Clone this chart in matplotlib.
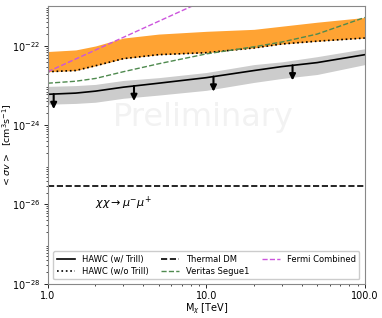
import matplotlib
matplotlib.use("Agg")
import matplotlib.pyplot as plt
import numpy as np

# masses [TeV]
mass = [1.0, 1.5, 2.0, 3.0, 5.0, 10.0, 20.0, 30.0, 50.0, 100.0]

# log10 <sigma v>
hawc_trill = [-23.22, -23.19, -23.14, -23.04, -22.94, -22.80, -22.62, -22.52, -22.42, -22.22]
band_hi = [-23.02, -23.00, -22.97, -22.87, -22.80, -22.67, -22.47, -22.40, -22.27, -22.07]
band_lo = [-23.47, -23.45, -23.42, -23.32, -23.24, -23.12, -22.92, -22.82, -22.72, -22.47]
hawc_notrill = [-22.65, -22.62, -22.50, -22.32, -22.22, -22.17, -22.05, -21.95, -21.88, -21.80]
orange_hi = [-22.14, -22.10, -22.00, -21.80, -21.70, -21.63, -21.58, -21.50, -21.40, -21.28]
veritas = [-22.94, -22.89, -22.82, -22.65, -22.45, -22.20, -22.02, -21.90, -21.70, -21.28]

fermi_mass = [1.0, 10.0]
fermi = [-22.65, -20.83]

thermal = 3e-26
arrow_mass = [1.09, 3.5, 11.1, 35.0]

p = lambda v: 10 ** np.array(v)

fig, ax = plt.subplots(figsize=(3.82, 3.18), dpi=100)

ax.fill_between(mass, p(hawc_notrill), p(orange_hi), color="darkorange", alpha=0.8, lw=0)
ax.fill_between(mass, p(band_lo), p(band_hi), color="gray", alpha=0.4, lw=0)

ax.plot(mass, p(hawc_trill), "k-", lw=1.2, label="HAWC (w/ Trill)")
ax.plot(mass, p(hawc_notrill), "k:", lw=1.2, label="HAWC (w/o Trill)")
ax.axhline(thermal, color="k", ls="--", lw=1.2, label="Thermal DM")
ax.plot(mass, p(veritas), "--", color="#4f8a4f", lw=1.0, label="Veritas Segue1")
ax.plot(fermi_mass, p(fermi), "--", color="#cc55dd", lw=1.0, label="Fermi Combined")

# upper-limit arrows
for m in arrow_mass:
    y0 = 10 ** np.interp(np.log10(m), np.log10(mass), hawc_trill)
    ax.annotate("", xy=(m, y0 * 10 ** -0.38), xytext=(m, y0),
                arrowprops=dict(arrowstyle="-|>", color="k", lw=1.5,
                                mutation_scale=9, shrinkA=0, shrinkB=0))

ax.text(2.0, 1.05e-26, r"$\chi\chi \rightarrow \mu^{-}\mu^{+}$", fontsize=8, va="center")
ax.text(0.49, 0.6, "Preliminary", transform=ax.transAxes, fontsize=23,
        color="gray", alpha=0.1, ha="center", va="center")

ax.set_xscale("log")
ax.set_yscale("log")
ax.set_xlim(1, 100)
ax.set_ylim(1e-28, 1e-21)
ax.set_xticks([1, 10, 100])
ax.set_xticklabels(["1.0", "10.0", "100.0"])
ax.set_yticks([1e-28, 1e-26, 1e-24, 1e-22])
ax.tick_params(labelsize=7, length=3, width=0.6, pad=2.5)
ax.tick_params(which="minor", length=1.5, width=0.5)
for s in ax.spines.values():
    s.set_color("#888888")
ax.set_xlabel(r"M$_{\chi}$ [TeV]", fontsize=7, labelpad=0)
ax.set_ylabel(r"$<\sigma v>$  [cm$^{3}$s$^{-1}$]", fontsize=6.8)
ax.yaxis.set_label_coords(-0.108, 0.5)

ax.legend(ncol=3, loc="lower center", fontsize=6, handlelength=2.2,
          columnspacing=1.5, borderpad=0.4, labelspacing=0.4, framealpha=1)

fig.subplots_adjust(left=0.125, right=0.955, top=0.98, bottom=0.108)
fig.savefig("out.png")
